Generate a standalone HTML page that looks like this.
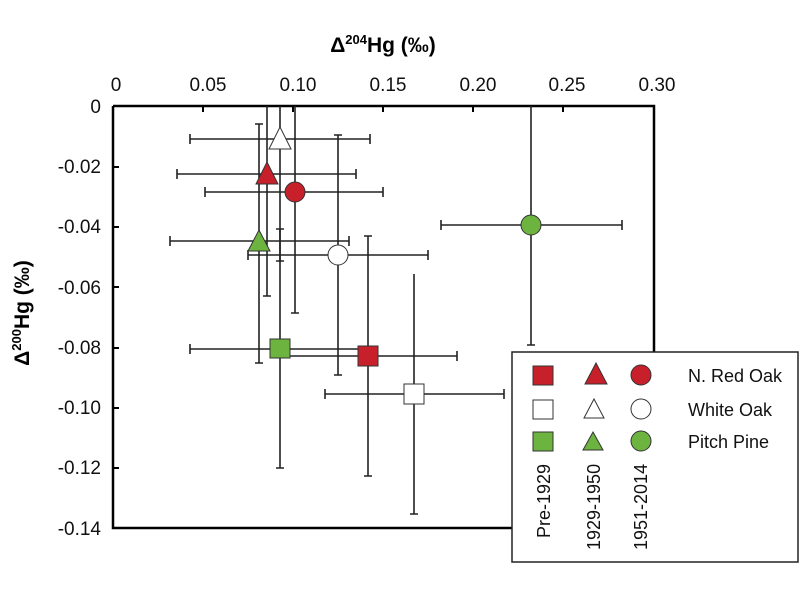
<!DOCTYPE html>
<html><head><meta charset="utf-8"><style>body{margin:0;background:#fff}svg{display:block}text{font-family:"Liberation Sans",sans-serif}</style></head><body>
<svg width="800" height="600" viewBox="0 0 800 600" xmlns="http://www.w3.org/2000/svg">
<rect width="800" height="600" fill="#fff"/>
<g font-size="19" fill="#111" text-anchor="middle">
<text x="116" y="91">0</text><text x="208" y="91">0.05</text><text x="298" y="91">0.10</text><text x="388" y="91">0.15</text><text x="478" y="91">0.20</text><text x="567" y="91">0.25</text><text x="657" y="91">0.30</text>
</g>
<g font-size="19" fill="#111" text-anchor="end">
<text x="101" y="113">0</text><text x="101" y="173">-0.02</text><text x="101" y="233">-0.04</text><text x="101" y="294">-0.06</text><text x="101" y="354">-0.08</text><text x="101" y="414">-0.10</text><text x="101" y="474">-0.12</text><text x="101" y="535">-0.14</text>
</g>
<text x="383" y="52" font-size="21" font-weight="bold" text-anchor="middle">Δ<tspan font-size="13" dy="-8">204</tspan><tspan dy="8">Hg (‰)</tspan></text>
<text transform="translate(29,313) rotate(-90)" font-size="21" font-weight="bold" text-anchor="middle">Δ<tspan font-size="13" dy="-8">200</tspan><tspan dy="8">Hg (‰)</tspan></text>
<g stroke="#000" fill="none">
<path d="M113,106 H654 V352" stroke-width="2.5"/>
<path d="M113,106 V528 H512" stroke-width="2.5"/>
<path d="M203,106v6M293,106v6M383,106v6M473,106v6M563,106v6" stroke-width="2"/>
<path d="M113,167h6M113,227h6M113,287h6M113,348h6M113,408h6M113,468h6" stroke-width="2"/>
</g>
<g stroke="#222" stroke-width="1.6" fill="none">
<path d="M177,174H356M177,169v10M356,169v10M267,106V296M263,296h8"/>
<path d="M190,139H370M190,134v10M370,134v10M280,106V261M276,261h8"/>
<path d="M205,192H383M205,187v10M383,187v10M295,106V313M291,313h8"/>
<path d="M170,241H349M170,236v10M349,236v10M259,124V363M255,124h8M255,363h8"/>
<path d="M248,255H428M248,250v10M428,250v10M338,135V375M334,135h8M334,375h8"/>
<path d="M441,225H622M441,220v10M622,220v10M531,106V345M527,345h8"/>
<path d="M190,349H370M190,344v10M280,229V468M276,229h8M276,468h8"/>
<path d="M288,356H457M457,351v10M368,236V476M364,236h8M364,476h8"/>
<path d="M325,394H504M325,389v10M504,389v10M414,274V514M410,514h8"/>
</g>
<g stroke="#333" stroke-width="1">
<polygon points="267,162 278,184 256,184" fill="#c8202a"/>
<polygon points="280,127 291,149 269,149" fill="#fff"/>
<circle cx="295" cy="192" r="10" fill="#c8202a"/>
<polygon points="259,230 270,251 248,251" fill="#6db33f"/>
<circle cx="338" cy="255" r="10" fill="#fff"/>
<circle cx="531" cy="225" r="10" fill="#6db33f"/>
<rect x="270" y="339" width="20" height="19" fill="#6db33f"/>
<rect x="358" y="346" width="20" height="20" fill="#c8202a"/>
<rect x="404" y="384" width="20" height="20" fill="#fff"/>
</g>
<rect x="512" y="352" width="286" height="210" fill="#fff" stroke="#222" stroke-width="1.5"/>
<g stroke="#333" stroke-width="1">
<rect x="533" y="366" width="20" height="19" fill="#c8202a"/>
<polygon points="596,363 607,384 585,384" fill="#c8202a"/>
<circle cx="641" cy="375" r="10" fill="#c8202a"/>
<rect x="533" y="400" width="20" height="19" fill="#fff"/>
<polygon points="594,399 604,418 584,418" fill="#fff"/>
<circle cx="641" cy="409" r="10" fill="#fff"/>
<rect x="533" y="432" width="20" height="19" fill="#6db33f"/>
<polygon points="593,432 603,450 583,450" fill="#6db33f"/>
<circle cx="641" cy="441" r="10" fill="#6db33f"/>
</g>
<g font-size="18" fill="#111">
<text x="688" y="382">N. Red Oak</text>
<text x="688" y="416">White Oak</text>
<text x="688" y="448">Pitch Pine</text>
<text transform="translate(550,538) rotate(-90)">Pre-1929</text>
<text transform="translate(600,550) rotate(-90)">1929-1950</text>
<text transform="translate(647,550) rotate(-90)">1951-2014</text>
</g>
</svg>
</body></html>
